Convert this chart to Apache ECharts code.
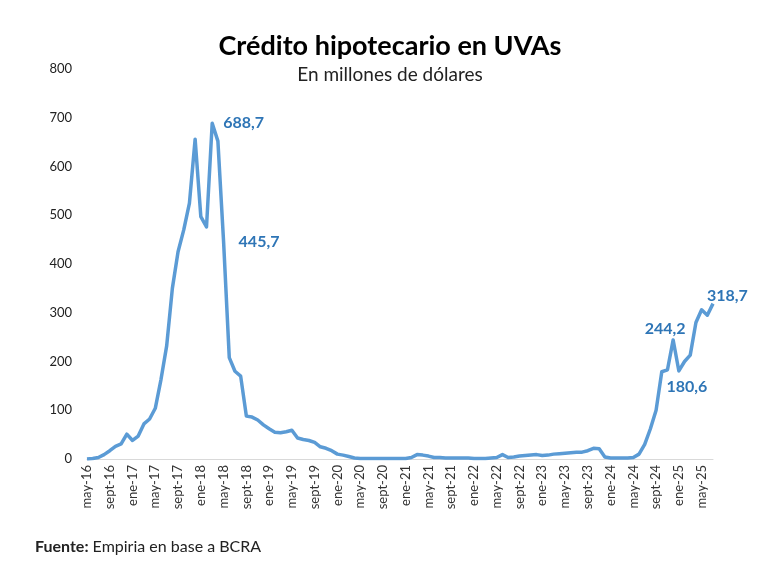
<!DOCTYPE html>
<html>
<head>
<meta charset="utf-8">
<script src="https://cdn.jsdelivr.net/npm/echarts@6/dist/echarts.min.js"></script>
<style>
  html, body { margin: 0; padding: 0; background: #fff; }
  #chart { width: 780px; height: 571px; }
</style>
</head>
<body>
<div id="chart"></div>
<script>
// monthly, may-16 .. jul-25
const monthNames = ["ene", "feb", "mar", "abr", "may", "jun", "jul", "ago", "sept", "oct", "nov", "dic"];
const categories = [];
for (let i = 0; i < 111; i++) {
  const m = (4 + i) % 12;
  const y = 16 + Math.floor((4 + i) / 12);
  categories.push(monthNames[m] + "-" + y);
}

const credito = [
  0, 1, 3, 9, 17, 26, 31, 51, 38, 47,
  72, 82, 104, 163, 232, 350, 425, 470, 525, 656,
  497, 476, 688.7, 652, 445.7, 208, 180, 170, 88, 86,
  80, 70, 62, 55, 54, 56, 59, 43, 40, 38,
  34, 25, 22, 17, 10, 8, 5, 2, 1, 1,
  1, 1, 1, 1, 1, 1, 1, 3, 9, 8,
  6, 3, 3, 2, 2, 2, 2, 2, 1, 1,
  1, 2, 3, 9, 3, 4, 6, 7, 8, 9,
  7, 8, 10, 11, 12, 13, 14, 14, 17, 22,
  21, 4, 2, 2, 2, 2, 3, 10, 30, 62,
  100, 179, 183, 244.2, 180.6, 200, 213, 280, 306, 295, 318.7
];

const yTicks = [0, 100, 200, 300, 400, 500, 600, 700, 800];

// points with a value label and where the label sits
const labelled = {
  22: { position: "right", offset: [6, 0] },
  24: { position: "right", offset: [10, 0] },
  103: { position: "top", offset: [-8, 2] },
  104: { position: "bottom", offset: [8, 3] },
  110: { position: "right", offset: [-11, -8] }
};

const LINE = "#5b9bd5";
const LABEL = "#2e75b6";
const FONT = "Lato, 'Open Sans', sans-serif";

const seriesData = credito.map((v, i) => {
  const l = labelled[i];
  if (!l) return v;
  return {
    value: v,
    label: {
      show: true,
      position: l.position,
      offset: l.offset,
      color: LABEL,
      fontWeight: "bold",
      fontSize: 16,
      fontFamily: FONT,
      formatter: (p) => String(p.value).replace(".", ",")
    }
  };
});

const chart = echarts.init(document.getElementById("chart"));
chart.setOption({
  animation: false,
  title: [
    {
      text: "Crédito hipotecario en UVAs",
      left: "center",
      top: 28,
      textStyle: { fontSize: 27, fontWeight: "bold", color: "#000", fontFamily: FONT }
    },
    {
      text: "En millones de dólares",
      left: "center",
      top: 60,
      textStyle: { fontSize: 19, fontWeight: "normal", color: "#222", fontFamily: FONT }
    },
    {
      text: "{b|Fuente:} Empiria en base a BCRA",
      left: 30,
      top: 534,
      textStyle: {
        fontSize: 16,
        fontWeight: "normal",
        color: "#222",
        fontFamily: FONT,
        rich: { b: { fontSize: 16, fontWeight: "bold", color: "#222", fontFamily: FONT } }
      }
    }
  ],
  grid: { left: 87, right: 67, top: 69, bottom: 112, containLabel: false },
  xAxis: {
    type: "category",
    boundaryGap: false,
    data: categories,
    axisLine: { lineStyle: { color: "#d9d9d9", width: 1 } },
    axisTick: { show: false },
    axisLabel: {
      interval: 3,
      rotate: 90,
      color: "#333",
      fontSize: 13,
      fontFamily: FONT,
      margin: 6
    }
  },
  yAxis: {
    type: "value",
    min: yTicks[0],
    max: yTicks[yTicks.length - 1],
    interval: 100,
    axisLine: { show: false },
    axisTick: { show: false },
    splitLine: { show: false },
    axisLabel: { color: "#222", fontSize: 13, fontFamily: FONT, margin: 15 }
  },
  series: [
    {
      type: "line",
      data: seriesData,
      showSymbol: true,
      symbol: "circle",
      symbolSize: 0,
      lineStyle: { color: LINE, width: 3.5, join: "round" },
      itemStyle: { color: LINE }
    }
  ]
});
</script>
</body>
</html>
